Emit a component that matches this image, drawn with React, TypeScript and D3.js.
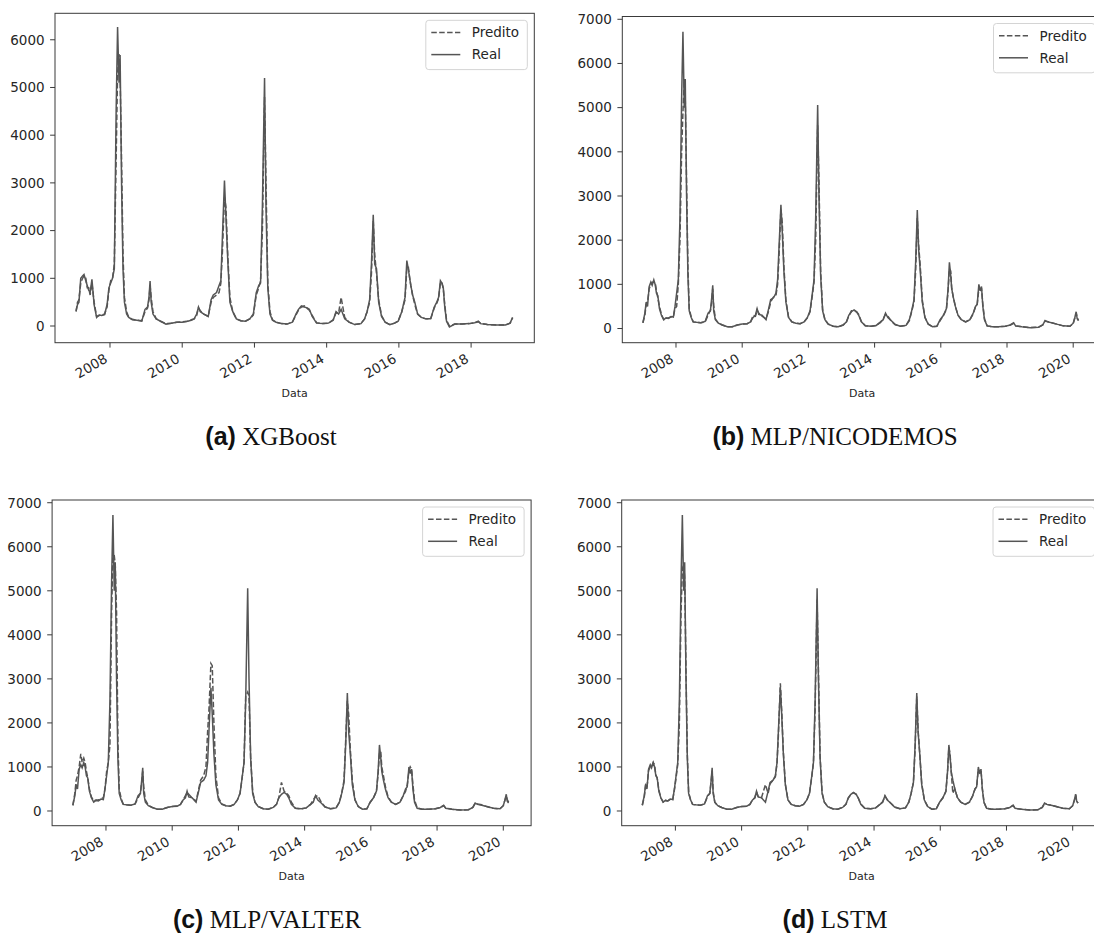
import React from "react";
import * as d3 from "d3";

// ---- shared time axis (decimal years), grouped by year ----
const DATES: number[] = [
  2007.00, 2007.06, 2007.10, 2007.14, 2007.19, 2007.24, 2007.28, 2007.33, 2007.37, 2007.41, 2007.45, 2007.50, 2007.56, 2007.63, 2007.70, 2007.77, 2007.85, 2007.92, 2007.97,
  2008.02, 2008.07, 2008.12, 2008.17, 2008.21, 2008.25, 2008.28, 2008.32, 2008.36, 2008.40, 2008.46, 2008.52, 2008.62, 2008.75, 2008.88, 2008.97,
  2009.04, 2009.08, 2009.11, 2009.14, 2009.19, 2009.28, 2009.40, 2009.55, 2009.70, 2009.85,
  2010.00, 2010.15, 2010.25, 2010.33, 2010.40, 2010.45, 2010.50, 2010.60, 2010.72, 2010.80, 2010.86, 2010.95,
  2011.02, 2011.07, 2011.11, 2011.17, 2011.21, 2011.26, 2011.32, 2011.40, 2011.50, 2011.62, 2011.75, 2011.87, 2011.97,
  2012.05, 2012.12, 2012.17, 2012.22, 2012.28, 2012.32, 2012.37, 2012.43, 2012.50, 2012.60, 2012.75, 2012.90,
  2013.05, 2013.15, 2013.22, 2013.30, 2013.38, 2013.46, 2013.52, 2013.60, 2013.72, 2013.90,
  2014.05, 2014.18, 2014.26, 2014.33, 2014.40, 2014.50, 2014.62, 2014.78, 2014.95,
  2015.05, 2015.12, 2015.19, 2015.24, 2015.29, 2015.33, 2015.38, 2015.44, 2015.52, 2015.62, 2015.75, 2015.88, 2015.98,
  2016.08, 2016.17, 2016.22, 2016.26, 2016.30, 2016.33, 2016.38, 2016.44, 2016.52, 2016.62, 2016.75, 2016.88, 2016.98,
  2017.05, 2017.10, 2017.15, 2017.19, 2017.23, 2017.27, 2017.32, 2017.40, 2017.55, 2017.75, 2017.95,
  2018.10, 2018.20, 2018.26, 2018.45, 2018.70, 2018.95,
  2019.08, 2019.15, 2019.22, 2019.35, 2019.50, 2019.70, 2019.90,
  2020.00, 2020.05, 2020.09, 2020.12, 2020.16,
];

// ---- (a) XGBoost ----
const REAL_A: (number | null)[] = [
  null, 315, 450, 500, 1000, 1050, 1080, 950, 850, 750, 700, 980, 450, 180, 230, 220, 240, 450, 800,
  900, 1000, 1200, 4500, 6270, 5100, 5680, 3000, 1200, 500, 250, 180, 130, 120, 100, 350,
  400, 600, 940, 500, 250, 150, 100, 40, 60, 80,
  80, 100, 120, 150, 250, 400, 300, 250, 200, 550, 650, 700,
  850, 950, 1800, 3050, 2300, 1400, 500, 300, 150, 110, 100, 150, 250,
  700, 850, 900, 2500, 5200, 2500, 800, 250, 120, 80, 50, 40,
  80, 250, 350, 420, 400, 380, 350, 200, 60, 50,
  60, 120, 300, 250, 350, 150, 80, 30, 50,
  150, 300, 550, 1300, 2330, 1300, 1200, 500, 200, 80, 30, 60, 100,
  300, 600, 1370, 1200, 1000, 850, 650, 500, 250, 180, 150, 150, 400,
  500, 600, 950, 900, 800, 400, 100, -20, 40, 40, 50,
  70, 100, 50, 30, 20, 20,
  60, 180, null, null, null, null, null,
  null, null, null, null, null,
];
const PRED_A: (number | null)[] = [
  null, 300, 500, 550, 900, 1000, 1050, 1000, 800, 800, 650, 900, 500, 200, 220, 230, 250, 400, 750,
  950, 1000, 1300, 3500, 5300, 5700, 5200, 3500, 1500, 600, 300, 180, 140, 120, 110, 300,
  380, 550, 850, 600, 300, 150, 100, 50, 60, 80,
  90, 100, 130, 150, 220, 380, 320, 250, 200, 500, 600, 650,
  700, 900, 1500, 2700, 2500, 1500, 600, 300, 150, 110, 100, 150, 230,
  650, 800, 950, 2000, 4800, 3000, 900, 300, 130, 80, 50, 40,
  80, 230, 330, 400, 420, 370, 330, 220, 70, 50,
  60, 130, 280, 270, 600, 180, 80, 30, 50,
  150, 300, 500, 1100, 2200, 1500, 1100, 550, 220, 80, 30, 60, 100,
  300, 550, 1200, 1250, 1000, 850, 650, 450, 250, 180, 150, 150, 380,
  480, 580, 900, 920, 780, 450, 120, 0, 40, 40, 50,
  70, 90, 60, 30, 20, 20,
  60, 170, null, null, null, null, null,
  null, null, null, null, null,
];

// ---- real series for (b), (c), (d) ----
const REAL_BCD: number[] = [
  130, 350, 600, 500, 950, 1050, 980, 1100, 1000, 800, 750, 450, 300, 200, 240, 230, 270, 260, 500,
  800, 1100, 2500, 5200, 6720, 5000, 5650, 3000, 1200, 400, 250, 150, 140, 130, 160, 350,
  400, 700, 980, 400, 200, 120, 80, 40, 40, 80,
  100, 110, 150, 250, 300, 450, 320, 300, 200, 450, 650, 700,
  800, 1100, 1800, 2800, 2200, 1300, 600, 250, 150, 120, 110, 150, 250,
  400, 800, 1100, 2500, 5060, 3000, 1200, 400, 200, 100, 50, 40,
  80, 150, 300, 380, 420, 380, 300, 150, 60, 50,
  70, 150, 200, 350, 250, 180, 90, 50, 70,
  200, 400, 650, 1500, 2680, 1800, 1300, 600, 250, 100, 40, 50, 200,
  300, 450, 900, 1500, 1200, 900, 700, 500, 300, 200, 150, 200, 350,
  500, 550, 1000, 850, 950, 500, 200, 60, 40, 40, 50,
  80, 130, 60, 40, 20, 30,
  80, 180, 150, 130, 100, 60, 50,
  120, 250, 380, 220, 180,
];
// ---- (b) MLP/NICODEMOS ----
const PRED_B: number[] = [
  130, 300, 550, 600, 900, 1000, 1050, 1050, 1050, 850, 700, 500, 320, 200, 230, 240, 260, 270, 450,
  500, 1000, 2000, 4000, 4900, 5600, 5200, 3300, 1400, 450, 260, 150, 140, 130, 150, 300,
  420, 600, 900, 500, 220, 120, 80, 40, 40, 80,
  100, 110, 140, 300, 280, 420, 350, 280, 220, 400, 600, 720,
  750, 1000, 1600, 2700, 2400, 1400, 650, 260, 150, 120, 110, 150, 240,
  380, 750, 1050, 2000, 4600, 3300, 1300, 420, 200, 100, 50, 40,
  80, 150, 280, 400, 400, 370, 320, 160, 60, 50,
  70, 140, 220, 320, 280, 170, 90, 50, 70,
  180, 380, 600, 1300, 2500, 1900, 1400, 650, 260, 100, 40, 50, 180,
  300, 430, 850, 1350, 1300, 900, 700, 500, 300, 200, 150, 200, 330,
  500, 550, 900, 900, 900, 550, 220, 60, 40, 40, 50,
  80, 120, 60, 40, 20, 30,
  80, 170, 160, 130, 100, 60, 50,
  110, 240, 350, 250, 180,
];
// ---- (c) MLP/VALTER ----
const PRED_C: number[] = [
  130, 400, 700, 800, 1000, 1300, 1100, 1200, 1100, 900, 750, 500, 320, 230, 250, 250, 280, 300, 500,
  900, 1100, 1500, 4500, 5900, 5800, 5600, 4500, 1600, 500, 280, 160, 140, 130, 160, 300,
  400, 650, 900, 550, 250, 130, 80, 40, 40, 80,
  100, 120, 150, 250, 350, 420, 380, 300, 220, 500, 700, 800,
  1000, 1800, 2300, 3350, 3300, 2000, 800, 300, 160, 120, 110, 150, 250,
  400, 800, 1100, 2600, 2700, 2600, 1200, 450, 200, 100, 50, 40,
  80, 150, 300, 650, 450, 400, 350, 200, 60, 50,
  70, 150, 250, 330, 350, 200, 90, 50, 70,
  200, 400, 700, 1600, 2500, 2200, 1400, 700, 260, 100, 40, 50, 200,
  300, 450, 850, 1300, 1350, 1000, 800, 550, 320, 200, 150, 200, 350,
  450, 600, 900, 1000, 950, 600, 250, 70, 40, 40, 50,
  80, 120, 70, 40, 20, 30,
  80, 170, 160, 140, 100, 60, 50,
  120, 250, 340, 260, 200,
];
// ---- (d) LSTM ----
const PRED_D: number[] = [
  130, 320, 580, 520, 920, 1000, 1000, 1100, 1050, 820, 750, 480, 300, 200, 240, 230, 270, 260, 480,
  750, 1050, 2000, 4500, 5500, 5600, 5300, 3200, 1300, 420, 250, 150, 140, 130, 160, 330,
  400, 680, 920, 450, 200, 120, 80, 40, 40, 80,
  100, 110, 150, 260, 300, 430, 330, 300, 600, 400, 620, 700,
  780, 1100, 1700, 2900, 2300, 1350, 620, 250, 150, 120, 110, 150, 250,
  400, 780, 1100, 2300, 4800, 3200, 1250, 420, 200, 100, 50, 40,
  80, 150, 290, 380, 410, 380, 300, 160, 60, 50,
  70, 150, 210, 340, 260, 180, 90, 50, 70,
  200, 400, 650, 1400, 2600, 1850, 1300, 620, 250, 100, 40, 50, 200,
  300, 440, 880, 1450, 1250, 900, 400, 500, 300, 200, 150, 200, 340,
  500, 550, 950, 870, 930, 520, 200, 60, 40, 40, 50,
  80, 130, 60, 40, 20, 30,
  80, 170, 150, 130, 100, 60, 50,
  120, 240, 370, 230, 180,
];

const Y_TICKS_A = [0, 1000, 2000, 3000, 4000, 5000, 6000];
const Y_TICKS_BCD = [0, 1000, 2000, 3000, 4000, 5000, 6000, 7000];
const X_TICKS_A = [2008, 2010, 2012, 2014, 2016, 2018];
const X_TICKS_BCD = [2008, 2010, 2012, 2014, 2016, 2018, 2020];
const LEGEND_LABELS = ["Predito", "Real"];
const X_LABEL = "Data";
const CAPTION_TAGS = ["(a)", "(b)", "(c)", "(d)"];
const CAPTION_NAMES = ["XGBoost", "MLP/NICODEMOS", "MLP/VALTER", "LSTM"];

const LINE = "#555555";
const FONT = "DejaVu Sans, sans-serif";

type PanelProps = {
  left: number; top: number; right: number; bottom: number;
  xd: [number, number]; yd: [number, number];
  real: (number | null)[]; pred: (number | null)[];
  xt: number[]; yt: number[];
  tag: string; name: string; capX: number; capY: number;
};

function Panel(p: PanelProps) {
  const x = d3.scaleLinear().domain(p.xd).range([p.left, p.right]);
  const y = d3.scaleLinear().domain(p.yd).range([p.bottom, p.top]);
  const mk = (vals: (number | null)[]) =>
    d3.line<number>()
      .defined((_, i) => vals[i] !== null && vals[i] !== undefined)
      .x((_, i) => x(DATES[i]))
      .y((_, i) => y(vals[i] as number))(DATES.map((_, i) => i)) || "";
  const tickLen = 4.9;
  const lgRight = p.right - 7;
  const lgLeft = lgRight - 101.5;
  const lgTop = p.top + 7;
  return (
    <g>
      <path d={mk(p.pred)} fill="none" stroke={LINE} strokeWidth={1.5} strokeDasharray="5.5 2.4" />
      <path d={mk(p.real)} fill="none" stroke={LINE} strokeWidth={1.5} />
      <rect x={p.left} y={p.top} width={p.right - p.left} height={p.bottom - p.top}
        fill="none" stroke="#3a3a3a" strokeWidth={1} />
      {p.yt.map((t) => (
        <g key={"y" + t}>
          <line x1={p.left - tickLen} x2={p.left} y1={y(t)} y2={y(t)} stroke="#3a3a3a" strokeWidth={1} />
          <text x={p.left - tickLen - 5.5} y={y(t)} dy="0.36em" textAnchor="end"
            fontFamily={FONT} fontSize={13.5} fill="#262626">{t}</text>
        </g>
      ))}
      {p.xt.map((t) => {
        const tx = x(t);
        const ay = p.bottom + tickLen + 4.9 + 9;
        return (
          <g key={"x" + t}>
            <line x1={tx} x2={tx} y1={p.bottom} y2={p.bottom + tickLen} stroke="#3a3a3a" strokeWidth={1} />
            <text transform={`translate(${tx - 1.5},${ay}) rotate(-30)`} textAnchor="end"
              fontFamily={FONT} fontSize={13.5} fill="#262626">{t}</text>
          </g>
        );
      })}
      <text x={(p.left + p.right) / 2} y={p.bottom + 54} textAnchor="middle"
        fontFamily={FONT} fontSize={11} fill="#262626">{X_LABEL}</text>
      <rect x={lgLeft} y={lgTop} width={101.5} height={49.3} rx={3} ry={3}
        fill="#ffffff" fillOpacity={0.8} stroke="#d4d4d4" strokeWidth={1} />
      {LEGEND_LABELS.map((lab, i) => {
        const cy = lgTop + 12.3 + i * 22;
        return (
          <g key={lab}>
            <line x1={lgLeft + 5.5} x2={lgLeft + 34.5} y1={cy} y2={cy} stroke={LINE} strokeWidth={1.5}
              strokeDasharray={i === 0 ? "5.5 2.4" : undefined} />
            <text x={lgLeft + 46} y={cy} dy="0.36em" fontFamily={FONT} fontSize={13.5} fill="#262626">{lab}</text>
          </g>
        );
      })}
      <text x={p.capX} y={p.capY} textAnchor="middle" fontSize={25} fill="#111">
        <tspan fontFamily="Liberation Sans, Arial, sans-serif" fontWeight="bold">{p.tag}</tspan>
        <tspan fontFamily="Liberation Serif, Times New Roman, serif">{" " + p.name}</tspan>
      </text>
    </g>
  );
}

export default function App() {
  const panels: PanelProps[] = [
    { left: 55, top: 13.3, right: 534.3, bottom: 342.7, xd: [2006.477, 2019.75], yd: [-350, 6555],
      real: REAL_A, pred: PRED_A, xt: X_TICKS_A, yt: Y_TICKS_A, tag: CAPTION_TAGS[0], name: CAPTION_NAMES[0], capX: 271, capY: 445 },
    { left: 622.3, top: 16.5, right: 1102, bottom: 342.7, xd: [2006.378, 2020.87], yd: [-321, 7063],
      real: REAL_BCD, pred: PRED_B, xt: X_TICKS_BCD, yt: Y_TICKS_BCD, tag: CAPTION_TAGS[1], name: CAPTION_NAMES[1], capX: 835, capY: 445 },
    { left: 52.1, top: 500, right: 531.1, bottom: 825.7, xd: [2006.373, 2020.84], yd: [-334, 7062],
      real: REAL_BCD, pred: PRED_C, xt: X_TICKS_BCD, yt: Y_TICKS_BCD, tag: CAPTION_TAGS[2], name: CAPTION_NAMES[2], capX: 267, capY: 928 },
    { left: 621.7, top: 500, right: 1101.5, bottom: 825.7, xd: [2006.378, 2020.87], yd: [-334, 7062],
      real: REAL_BCD, pred: PRED_D, xt: X_TICKS_BCD, yt: Y_TICKS_BCD, tag: CAPTION_TAGS[3], name: CAPTION_NAMES[3], capX: 835, capY: 928 },
  ];
  return (
    <svg width={1094} height={934} style={{ position: "absolute", left: 0, top: 0, background: "#fff" }}>
      <rect x={0} y={0} width={1094} height={934} fill="#fff" />
      {panels.map((p, i) => <Panel key={i} {...p} />)}
    </svg>
  );
}
